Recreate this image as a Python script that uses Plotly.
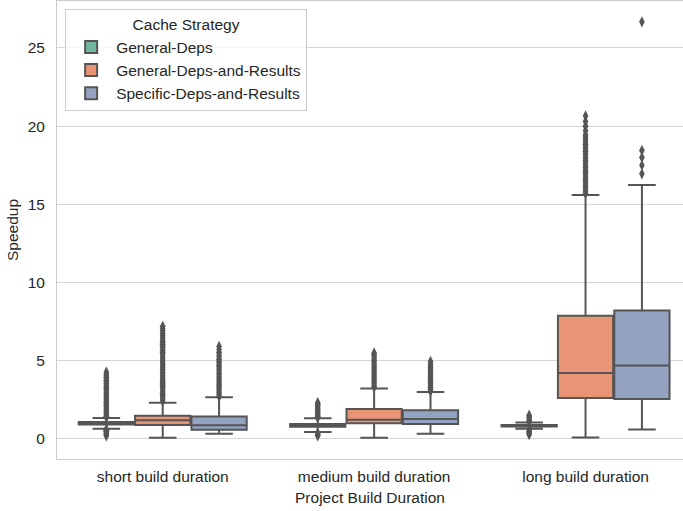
import plotly.graph_objects as go

categories = ["short build duration", "medium build duration", "long build duration"]
strategies = ["General-Deps", "General-Deps-and-Results", "Specific-Deps-and-Results"]
colors = ["#71b6a1", "#e99575", "#95a3c3"]

# box statistics per strategy, in category order
gd_q1 = [0.93, 0.78, 0.80]
gd_med = [1.00, 0.88, 0.85]
gd_q3 = [1.08, 0.96, 0.90]
gd_lo = [0.66, 0.45, 0.66]
gd_hi = [1.34, 1.32, 1.05]

gdr_q1 = [0.89, 1.00, 2.62]
gdr_med = [1.19, 1.23, 4.22]
gdr_q3 = [1.49, 1.92, 7.88]
gdr_lo = [0.08, 0.08, 0.10]
gdr_hi = [2.32, 3.23, 15.60]

sdr_q1 = [0.59, 0.96, 2.56]
sdr_med = [0.87, 1.28, 4.70]
sdr_q3 = [1.44, 1.83, 8.22]
sdr_lo = [0.34, 0.34, 0.60]
sdr_hi = [2.66, 3.00, 16.23]

# outliers
gd_short_out = [0.2, 0.26, 0.32, 0.38, 0.44, 0.5, 0.56, 0.62, 1.38, 1.45, 1.55, 1.65, 1.75,
                1.85, 1.95, 2.05, 2.15, 2.25, 2.35, 2.45, 2.55, 2.65, 2.75, 2.85, 2.95, 3.05,
                3.15, 3.25, 3.35, 3.45, 3.55, 3.65, 3.75, 3.85, 3.95, 4.05, 4.15, 4.28]
gd_medium_out = [0.2, 0.26, 0.32, 0.38, 1.36, 1.45, 1.55, 1.65, 1.75, 1.85, 1.95, 2.05,
                 2.15, 2.25, 2.32]
gd_long_out = [0.28, 0.35, 0.42, 0.5, 0.58, 1.1, 1.18, 1.26, 1.34, 1.42, 1.52]

gdr_short_out = [2.42, 2.55, 2.68, 2.8, 2.93, 3.05, 3.18, 3.3, 3.43, 3.55, 3.68, 3.8, 3.93,
                 4.05, 4.18, 4.3, 4.43, 4.55, 4.68, 4.8, 4.93, 5.05, 5.18, 5.3, 5.43, 5.55,
                 5.68, 5.8, 5.93, 6.05, 6.18, 6.3, 6.45, 6.6, 6.75, 6.9, 7.05, 7.2]
gdr_medium_out = [3.3, 3.42, 3.55, 3.68, 3.8, 3.93, 4.05, 4.18, 4.3, 4.43, 4.55, 4.68, 4.8,
                  4.93, 5.05, 5.18, 5.3, 5.42, 5.5]
gdr_long_out = [15.7, 15.85, 16.0, 16.15, 16.3, 16.45, 16.6, 16.75, 16.9, 17.05, 17.2, 17.35,
                17.5, 17.65, 17.8, 17.95, 18.1, 18.25, 18.4, 18.55, 18.7, 18.85, 19.0, 19.15,
                19.3, 19.45, 19.7, 20.0, 20.3, 20.65]

sdr_short_out = [2.72, 2.85, 2.97, 3.1, 3.22, 3.35, 3.47, 3.6, 3.72, 3.85, 3.97, 4.1, 4.22,
                 4.35, 4.47, 4.6, 4.72, 4.85, 4.97, 5.1, 5.25, 5.4, 5.55, 5.72, 5.92]
sdr_medium_out = [3.05, 3.17, 3.3, 3.42, 3.55, 3.67, 3.8, 3.92, 4.05, 4.17, 4.3, 4.42, 4.55,
                  4.67, 4.8, 4.96]
sdr_long_out = [16.95, 17.5, 18.0, 18.45, 26.67]

y_ticks = [0, 5, 10, 15, 20, 25]

stats = [
    (gd_q1, gd_med, gd_q3, gd_lo, gd_hi, [gd_short_out, gd_medium_out, gd_long_out]),
    (gdr_q1, gdr_med, gdr_q3, gdr_lo, gdr_hi, [gdr_short_out, gdr_medium_out, gdr_long_out]),
    (sdr_q1, sdr_med, sdr_q3, sdr_lo, sdr_hi, [sdr_short_out, sdr_medium_out, sdr_long_out]),
]

LINE = "#555555"
TEXT = "#262626"
GRID = "#d6d6d6"
FONT = "Liberation Sans, Arial, sans-serif"
FS = 15.5
n_h = len(strategies)
group_w = 0.8
slot = group_w / n_h
box_w = slot * 0.98

fig = go.Figure()
for h, (name, col, st) in enumerate(zip(strategies, colors, stats)):
    q1, med, q3, lo, hi, outs = st
    xs = [c + (h - (n_h - 1) / 2) * slot for c in range(len(categories))]
    fig.add_trace(go.Box(
        x=xs, q1=q1, median=med, q3=q3, lowerfence=lo, upperfence=hi,
        width=box_w, whiskerwidth=0.5, fillcolor=col,
        line=dict(color=LINE, width=2), boxpoints=False,
        name=name, legendgroup=name, showlegend=True, hoverinfo="skip",
    ))
    for c, o in enumerate(outs):
        fig.add_trace(go.Scatter(
            x=[xs[c]] * len(o), y=o, mode="markers",
            marker=dict(symbol="diamond-tall", size=8, color=LINE,
                        line=dict(color=LINE, width=0)),
            showlegend=False, legendgroup=name, hoverinfo="skip",
        ))

fig.update_layout(
    width=683, height=511,
    margin=dict(l=57, r=0, t=1, b=52),
    paper_bgcolor="white", plot_bgcolor="white",
    font=dict(family=FONT, size=FS, color=TEXT),
    showlegend=True,
    legend=dict(
        title=dict(text="Cache Strategy", side="top center", font=dict(size=FS, color=TEXT)),
        x=0.013, y=0.982, xanchor="left", yanchor="top",
        bgcolor="rgba(255,255,255,0.8)", bordercolor="#cccccc", borderwidth=1,
        font=dict(size=FS, color=TEXT), tracegroupgap=0, itemwidth=40,
    ),
    xaxis=dict(
        range=[-0.5, 2.461], tickvals=list(range(len(categories))), ticktext=categories,
        showgrid=False, zeroline=False, showline=True, mirror=True,
        linecolor="#cccccc", linewidth=1,
        ticks="outside", ticklen=3, tickcolor="rgba(0,0,0,0)",
        title=dict(text="Project Build Duration", standoff=8, font=dict(size=FS, color=TEXT)),
    ),
    yaxis=dict(
        range=[-1.28, 28.0], tickvals=y_ticks,
        showgrid=True, gridcolor=GRID, gridwidth=1,
        zeroline=True, zerolinecolor=GRID, zerolinewidth=1,
        showline=True, linecolor="#cccccc", linewidth=1,
        ticks="outside", ticklen=8, tickcolor="rgba(0,0,0,0)",
        title=dict(text="Speedup", standoff=5, font=dict(size=FS, color=TEXT)),
    ),
)

fig.write_html("out.html")
